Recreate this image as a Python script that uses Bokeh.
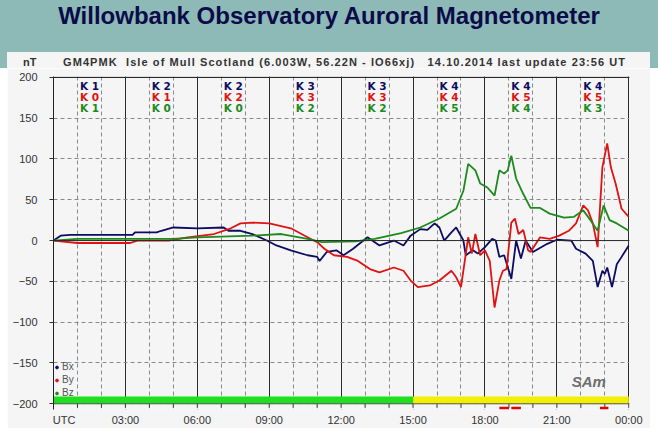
from bokeh.plotting import figure
from bokeh.models import Range1d, FixedTicker, Span, Legend, LegendItem, Div
from bokeh.layouts import column
from bokeh.embed import file_html
from bokeh.resources import INLINE
from bokeh.core.properties import value

title_text = "Willowbank Observatory Auroral Magnetometer"
header_text = "GM4PMK  Isle of Mull Scotland (6.003W, 56.22N - IO66xj)   14.10.2014 last update 23:56 UT"
unit_text = "nT"

series_names = ["Bx", "By", "Bz"]
series_colors = ["#0c0c62", "#e01212", "#1c8a1c"]

bx_hours = [0.0, 0.3, 0.7, 2.0, 3.3, 3.4, 4.3, 4.5, 5.0, 6.0, 7.1, 7.3, 7.8, 8.3, 8.9, 9.3,
            9.9, 10.6, 11.0, 11.1, 11.4, 11.8, 12.1, 12.5, 13.1, 13.6, 14.2, 14.6, 14.9, 15.3,
            15.6, 15.9, 16.1, 16.3, 16.6, 16.8, 17.1, 17.2, 17.5, 17.7, 18.0, 18.3, 18.45, 18.6,
            18.8, 19.1, 19.3, 19.5, 19.7, 20.0, 20.6, 21.0, 21.6, 21.8, 22.2, 22.5, 22.7, 22.9,
            23.0, 23.1, 23.3, 23.5, 23.7, 24.0]
bx_nt = [0, 6, 7, 7, 7, 10, 10, 12, 16, 15, 16, 12, 12, 8, 0, -6,
         -12, -18, -20, -25, -14, -12, -18, -10, 4, -6, 0, -6, 6, 14,
         13, 21, 16, 0, 10, 16, 0, -18, -12, -16, -8, 2, 0, -20,
         -18, -47, 0, -22, 0, -14, -4, 1, 0, -10, -16, -25, -57, -37,
         -41, -33, -57, -29, -20, -6]

by_hours = [0.0, 1.0, 3.2, 3.5, 4.8, 5.6, 6.7, 7.4, 7.8, 8.3, 9.0, 9.9, 10.6, 11.0, 11.3,
            11.7, 12.25, 12.7, 13.2, 13.6, 14.2, 14.6, 14.9, 15.2, 15.7, 16.1, 16.6, 16.8, 17.0,
            17.3, 17.45, 17.6, 17.8, 18.0, 18.2, 18.4, 18.6, 18.75, 18.9, 19.1, 19.25, 19.4, 19.6,
            19.8, 19.9, 20.3, 20.7, 21.1, 21.5, 21.8, 22.1, 22.3, 22.5, 22.7, 22.9, 23.1, 23.25,
            23.45, 23.7, 24.0]
by_nt = [0, -3, -3, 0, 0, 4, 8, 15, 21, 22, 21, 15, 4, -2, -10,
         -18, -20, -25, -35, -39, -33, -37, -49, -57, -55, -49, -37, -45, -57,
         4, -16, 8, -18, -12, -25, -82, -49, -37, -35, 22, 27, 8, 13,
         -12, -14, 4, 2, 6, 12, 21, 43, 37, 21, -8, 90, 119, 90,
         70, 39, 29]

bz_hours = [0.0, 1.0, 5.0, 6.0, 8.3, 9.5, 10.6, 11.2, 12.6, 13.4, 14.5, 15.3, 16.1, 16.8,
            17.1, 17.3, 17.6, 17.8, 18.1, 18.4, 18.6, 18.8, 18.95, 19.1, 19.3, 19.6, 19.9,
            20.3, 20.7, 21.3, 21.7, 22.1, 22.4, 22.7, 22.95, 23.2, 23.5, 24.0]
bz_nt = [0, 2, 2, 4, 6, 8, 2, -2, -1, 2, 9, 16, 27, 39,
         61, 94, 86, 70, 65, 55, 86, 82, 86, 104, 76, 57, 40,
         40, 33, 28, 29, 37, 25, 12, 43, 25, 21, 12]

# K indices per 3-hour block
k_bx = [1, 2, 2, 3, 3, 4, 4, 4]
k_by = [0, 1, 2, 3, 3, 4, 5, 5]
k_bz = [1, 0, 0, 2, 2, 5, 4, 3]

tick_hours = [0, 3, 6, 9, 12, 15, 18, 21, 24]
tick_labels = ["UTC", "03:00", "06:00", "09:00", "12:00", "15:00", "18:00", "21:00", "00:00"]
y_ticks = [-200, -150, -100, -50, 0, 50, 100, 150, 200]

status_start = [0, 15]
status_end = [15, 24]
status_colors = ["#1ee01e", "#f0f000"]

alert_start = [18.6, 19.1, 22.8]
alert_end = [19.0, 19.5, 23.15]

logo_text = "SAm"

TEAL = "#8dbab6"
PANEL = "#f5f5f5"
FONT = "Liberation Sans"

# header (title on teal, station line on the light panel)
head_html = (
    '<div style="position: relative; width: 658px; height: 68px; background-color: %s;">'
    '<div style="position: absolute; left: 0; top: 2px; width: 658px; text-align: center; '
    'font: bold 24px \'Liberation Sans\'; line-height: 28px; color: #0b0b4a;">%s</div>'
    '<div style="position: absolute; left: 7px; top: 52px; width: 643px; height: 16px; '
    'background-color: %s;"></div>'
    '<div style="position: absolute; left: 23px; top: 56px; font: bold 11px \'Liberation Sans\'; '
    'line-height: 13px; color: #333333;">%s</div>'
    '<div style="position: absolute; left: 63px; top: 56px; font: bold 11px \'Liberation Sans\'; '
    'line-height: 13px; letter-spacing: 1.08px; white-space: pre; color: #333333;">%s</div>'
    '</div>' % (TEAL, title_text, PANEL, unit_text, header_text)
)
head = Div(text=head_html, width=658, height=68, margin=(0, 0, 0, 0))

Y_LO, Y_HI = -207, 201
p = figure(width=643, height=360, output_backend="svg", toolbar_location=None,
           x_range=Range1d(0, 24.03), y_range=Range1d(Y_LO, Y_HI),
           min_border_left=46, min_border_right=21, min_border_top=8, min_border_bottom=19,
           margin=(0, 8, 8, 7))
p.background_fill_color = PANEL
p.border_fill_color = PANEL
p.outline_line_color = None

# x axis: labels only (ticks drawn below the status bar)
utc_pos = tick_hours[0] + 0.44
x_label_pos = [utc_pos] + tick_hours[1:]
p.xaxis.ticker = FixedTicker(ticks=x_label_pos, minor_ticks=[])
p.xaxis.major_label_overrides = {h: lab for h, lab in zip(x_label_pos, tick_labels)}
p.xaxis.axis_line_color = None
p.xaxis.major_tick_line_color = None
p.xaxis.minor_tick_line_color = None
p.xaxis.major_label_standoff = -2
p.xaxis.major_label_text_font = FONT
p.xaxis.major_label_text_font_size = "11px"
p.xaxis.major_label_text_color = "#333333"

p.yaxis.ticker = FixedTicker(ticks=y_ticks)
p.yaxis.axis_line_color = "#222222"
p.yaxis.major_tick_line_color = "#333333"
p.yaxis.major_tick_out = 4
p.yaxis.major_tick_in = 0
p.yaxis.minor_tick_line_color = None
p.yaxis.major_label_standoff = 12
p.yaxis.major_label_text_font = FONT
p.yaxis.major_label_text_font_size = "11px"
p.yaxis.major_label_text_color = "#333333"

# grids
p.xgrid.ticker = FixedTicker(ticks=tick_hours, minor_ticks=list(range(25)))
p.xgrid.grid_line_color = "#2a2a2a"
p.xgrid.grid_line_width = 1
p.xgrid.minor_grid_line_color = "#8a8a8a"
p.xgrid.minor_grid_line_dash = "4 3"
p.ygrid.ticker = FixedTicker(ticks=y_ticks)
p.ygrid.grid_line_color = "#8a8a8a"
p.ygrid.grid_line_dash = "4 3"

p.add_layout(Span(location=0, dimension="width", line_color="#2a2a2a", line_width=1))
p.add_layout(Span(location=200, dimension="width", line_color="#2a2a2a", line_width=1.2))

# area below the status bar (covers grid), ticks and alert marks
p.quad(left=[0], right=[24.03], bottom=[Y_LO], top=[-200], fill_color=PANEL, line_color=None)
p.quad(left=status_start, right=status_end, bottom=[-200] * len(status_start),
       top=[-191] * len(status_start), fill_color=status_colors, line_color=None)
p.segment(x0=list(range(25)), y0=[-200] * 25, x1=list(range(25)), y1=[-205] * 25,
          line_color="#333333", line_width=1)
p.add_layout(Span(location=-200, dimension="width", line_color="#555555", line_width=1))
p.quad(left=alert_start, right=alert_end, bottom=[-207] * len(alert_start),
       top=[-203.5] * len(alert_start), fill_color="#e00000", line_color=None)

# data lines
for hrs, vals, c in zip([bx_hours, by_hours, bz_hours], [bx_nt, by_nt, bz_nt], series_colors):
    p.line(hrs, vals, line_color=c, line_width=1.8)

# K index labels
block_centers = [1.5 + 3 * i for i in range(len(k_bx))]
k_rows = [189, 176, 162]
for ks, row, c in zip([k_bx, k_by, k_bz], k_rows, series_colors):
    p.text(x=block_centers, y=[row] * len(ks), text=["K %d" % k for k in ks],
           text_color=c, text_font=value("DejaVu Sans"), text_font_size="10.5px",
           text_font_style="bold", text_align="center", text_baseline="middle")

# logo
p.text(x=[22.33], y=[-173], text=[logo_text], text_color="#6e6e6e", text_font=value(FONT),
       text_font_size="15px", text_font_style="bold italic", text_align="center",
       text_baseline="middle")

# legend
items = []
for name, c in zip(series_names, series_colors):
    r = p.scatter(x=[-100], y=[-1000], size=3, color=c)
    items.append(LegendItem(label=name, renderers=[r]))
leg = Legend(items=items, location=(0, 11), orientation="vertical",
             background_fill_alpha=0, border_line_color=None,
             label_text_font=FONT, label_text_font_size="10px", label_text_color="#555555",
             glyph_width=7, glyph_height=10, label_height=10, spacing=2, padding=2,
             margin=0, label_standoff=2)
p.add_layout(leg)

layout = column(head, p, spacing=0)
html = file_html(layout, INLINE)
html = html.replace("<body>", '<body style="background-color: %s;">' % TEAL, 1)
open("out.html", "w").write(html)
